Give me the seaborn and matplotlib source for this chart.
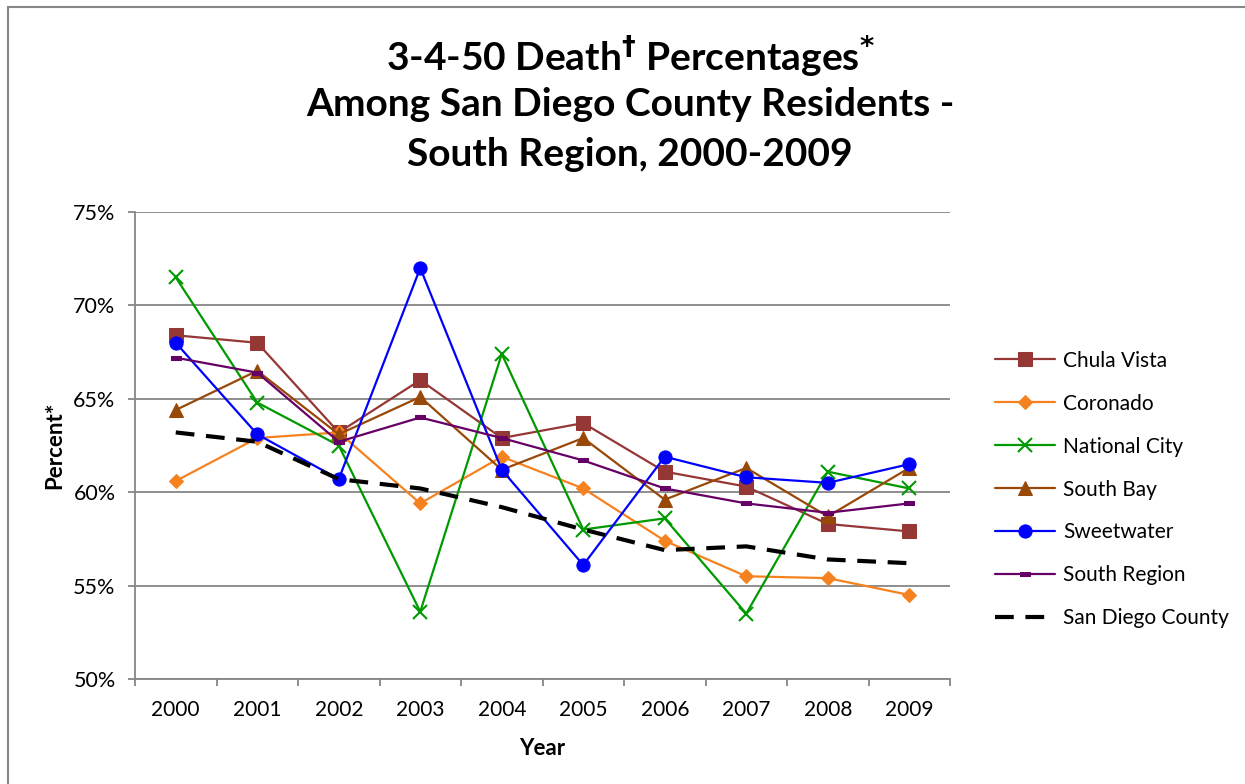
import matplotlib
matplotlib.use("Agg")
import matplotlib.pyplot as plt
import seaborn as sns
import numpy as np
from matplotlib.patches import Rectangle
from matplotlib.ticker import FixedLocator, NullFormatter, FixedFormatter

sns.set_style("white")
plt.rcParams['font.family'] = ['Lato', 'DejaVu Sans']

years = ["2000", "2001", "2002", "2003", "2004", "2005", "2006", "2007", "2008", "2009"]
chula_vista = [68.4, 68.0, 63.2, 66.0, 62.9, 63.7, 61.1, 60.3, 58.3, 57.9]
coronado = [60.6, 62.9, 63.2, 59.4, 61.9, 60.2, 57.4, 55.5, 55.4, 54.5]
national_city = [71.5, 64.8, 62.5, 53.6, 67.4, 58.0, 58.6, 53.5, 61.1, 60.2]
south_bay = [64.4, 66.5, 63.1, 65.1, 61.2, 62.9, 59.6, 61.3, 58.7, 61.3]
sweetwater = [68.0, 63.1, 60.7, 72.0, 61.2, 56.1, 61.9, 60.8, 60.5, 61.5]
south_region = [67.2, 66.4, 62.7, 64.0, 62.9, 61.7, 60.2, 59.4, 58.9, 59.4]
san_diego = [63.2, 62.7, 60.7, 60.2, 59.2, 58.0, 56.9, 57.1, 56.4, 56.2]

series_names = ["Chula Vista", "Coronado", "National City", "South Bay",
                "Sweetwater", "South Region", "San Diego County"]
series_values = [chula_vista, coronado, national_city, south_bay,
                 sweetwater, south_region, san_diego]

rect_marker = [(-1, -0.45), (1, -0.45), (1, 0.45), (-1, 0.45), (-1, -0.45)]
styles = [
    dict(color="#953735", marker="s", markersize=10, lw=1.6),
    dict(color="#F5821F", marker="D", markersize=7, lw=1.6),
    dict(color="#009A00", marker="x", markersize=10, mew=1.5, lw=1.6),
    dict(color="#984807", marker="^", markersize=10, lw=1.6),
    dict(color="#0000FF", marker="o", markersize=9.5, lw=1.6),
    dict(color="#660066", marker=rect_marker, markersize=7, lw=1.6),
    dict(color="#000000", marker=None, lw=3.0, dashes=(4.5, 2.8)),
]

fig = plt.figure(figsize=(12.45, 7.84), dpi=100)
ax = fig.add_axes([135/1245, 1-679/784, (950-135)/1245, (679-212)/784])

x = np.arange(len(years))
for name, vals, st in zip(series_names, series_values, styles):
    st = dict(st)
    kw = dict(color=st.pop("color"), linewidth=st.pop("lw"), label=name)
    mk = st.pop("marker")
    if mk is not None:
        kw["marker"] = mk
        kw["markeredgecolor"] = kw["color"]
    sns.lineplot(x=x, y=vals, ax=ax, **kw, **st)

ax.set_xlim(-0.5, 9.5)
ax.set_ylim(50, 75)
yt = [50, 55, 60, 65, 70, 75]
ax.yaxis.set_major_locator(FixedLocator(yt))
ax.yaxis.set_major_formatter(FixedFormatter([f"{v}%" for v in yt]))
ax.grid(axis="y", color="#868686", lw=1.3)
ax.set_axisbelow(True)

ax.xaxis.set_major_locator(FixedLocator(np.arange(-0.5, 10, 1)))
ax.xaxis.set_major_formatter(NullFormatter())
ax.xaxis.set_minor_locator(FixedLocator(x))
ax.xaxis.set_minor_formatter(FixedFormatter(years))
ax.tick_params(axis="x", which="major", length=5, width=1.3, color="#868686", direction="out", bottom=True)
ax.tick_params(axis="x", which="minor", length=0, pad=15, labelsize=15, labelcolor="black")
ax.tick_params(axis="y", length=5, width=1.3, color="#868686", direction="out", left=True, pad=9,
               labelsize=15.5, labelcolor="black")

for s in ["top", "right"]:
    ax.spines[s].set_visible(False)
for s in ["left", "bottom"]:
    ax.spines[s].set_color("#868686")
    ax.spines[s].set_linewidth(1.3)

ax.set_xlabel("Year", fontsize=16, fontweight="bold", labelpad=13, color="black")
ax.set_ylabel("Percent*", fontsize=16, fontweight="bold", labelpad=6, color="black")

leg = ax.legend(loc="upper left", bbox_to_anchor=(976/1245, 1-332/784), bbox_transform=fig.transFigure,
                frameon=False, fontsize=15, handlelength=2.9, labelspacing=1.1, handletextpad=0.38)
for t in leg.get_texts():
    t.set_color("black")

for yy, txt in [(56, r"3-4-50 Death$^{\mathbf{\dagger}}$ Percentages$^{\mathbf{*}}$"),
                (105, "Among San Diego County Residents -"),
                (155, "South Region, 2000-2009")]:
    fig.text(0.506, 1-yy/784, txt, ha="center", va="center", fontsize=28,
             fontweight="bold", color="black")

fig.patches.append(Rectangle((7.5/1245, -0.1), 1.2, 1 - 7.5/784 + 0.1, transform=fig.transFigure,
                             fill=False, edgecolor="#868686", lw=1.5))

fig.savefig("out.png", dpi=100)
